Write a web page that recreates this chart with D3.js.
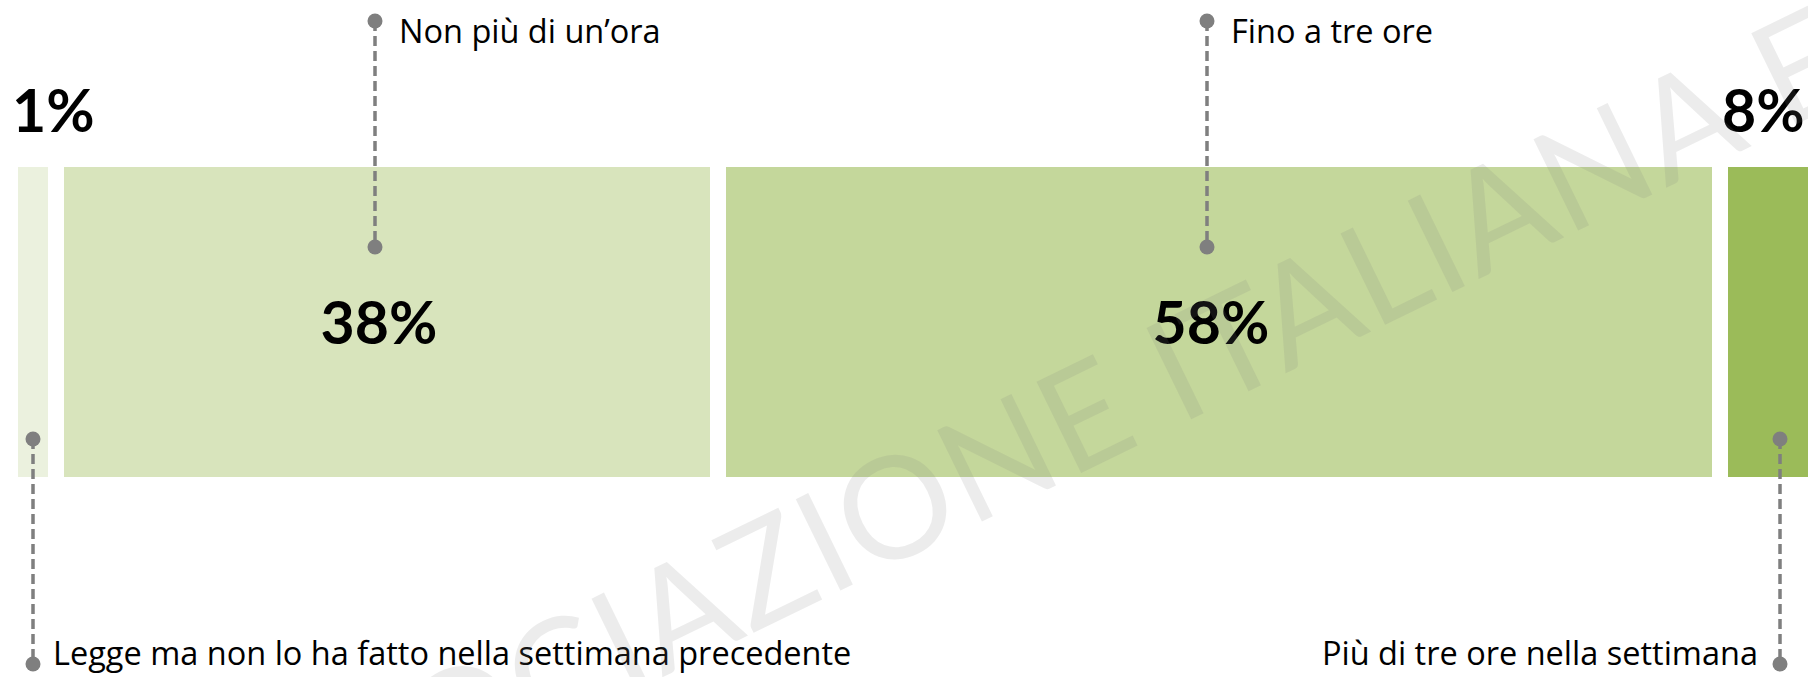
<!DOCTYPE html>
<html>
<head>
<meta charset="utf-8">
<script src="https://cdn.jsdelivr.net/npm/d3@7"></script>
<style>
  body { margin: 0; background: #fff; }
  svg { display: block; }
</style>
</head>
<body>
<div class="chart"></div>
<script>
// data
const categories = ["Legge ma non lo ha fatto nella settimana precedente", "Non più di un’ora", "Fino a tre ore", "Più di tre ore nella settimana"];
const values = [1, 38, 58, 8];
const valueLabels = ["1%", "38%", "58%", "8%"];
const colors = ["#EBF1DE", "#D8E4BC", "#C4D79B", "#9BBB59"];
const calloutSide = ["bottom", "top", "top", "bottom"];
const watermark = "ASSOCIAZIONE ITALIANA EDITORI";

const width = 1808, height = 677;
const gap = 16, minW = 30;
const labelFont = '"Open Sans", sans-serif';

var svg = d3.select('.chart')
            .append('svg')
            .attr("width", width)
            .attr("height", height);

// one stacked row, 17 px for each percentage point
var x = d3.scaleLinear()
          .domain([0, 1])
          .range([0, 17]);

var y = d3.scaleBand()
          .domain(["row"])
          .range([167, 477]);

// lay the segments out one after the other
let cursor = 18;
const bars = values.map((v, i) => {
    const w = Math.max(x(v), minW);
    const b = {i: i, x: cursor, w: w, v: v};
    cursor += w + gap;
    return b;
});

svg.selectAll('rect.bar')
   .data(bars)
   .enter()
   .append('rect')
   .attr('class', 'bar')
   .attr('x', d => d.x)
   .attr('y', y("row"))
   .attr('width', d => d.w)
   .attr('height', y.bandwidth())
   .attr('fill', (d, i) => colors[i]);

// value labels: inside big bars, above the thin ones
svg.selectAll('text.value')
   .data(bars)
   .enter()
   .append('text')
   .attr('class', 'value')
   .attr('x', d => d.w > 200 ? d.x + d.w / 2 - 8 : d.x - 6)
   .attr('y', d => d.w > 200 ? y("row") + y.bandwidth() / 2 + 22 : 132)
   .attr('text-anchor', d => d.w > 200 ? 'middle' : 'start')
   .attr('font-family', 'Lato, sans-serif')
   .attr('font-weight', 700)
   .attr('font-size', 59)
   .attr('fill', '#000')
   .text((d, i) => valueLabels[i]);

// callouts
svg.selectAll('g.callout')
   .data(bars)
   .enter()
   .append('g')
   .attr('class', 'callout')
   .each(function(d, i) {
       const g = d3.select(this);
       let cx, y1, y2, tx, ty, anchor;
       if (calloutSide[i] === 'top') {
           cx = d.x + d.w / 2 - 12;
           y1 = 21; y2 = 247;
           tx = cx + 24; ty = 43; anchor = 'start';
       } else {
           cx = d.x + Math.min(d.w / 2, 52);
           y1 = 439; y2 = 664;
           if (i === 0) { tx = cx + 20; anchor = 'start'; }
           else { tx = cx - 22; anchor = 'end'; }
           ty = 665;
       }
       g.append('line')
        .attr('x1', cx).attr('x2', cx)
        .attr('y1', y1).attr('y2', y2)
        .attr('stroke', '#7f7f7f')
        .attr('stroke-width', 3.5)
        .attr('stroke-dasharray', '10,5');
       g.selectAll('circle')
        .data([y1, y2])
        .enter()
        .append('circle')
        .attr('cx', cx)
        .attr('cy', c => c)
        .attr('r', 7.5)
        .attr('fill', '#7f7f7f');
       g.append('text')
        .attr('x', tx)
        .attr('y', ty)
        .attr('text-anchor', anchor)
        .attr('font-family', labelFont)
        .attr('font-size', 32.5)
        .attr('fill', '#000')
        .text(categories[i]);
   });

// watermark on top, placed so the O of "ZIONE" sits where it is in the source
const fs = 142;
const wm = svg.append('text')
   .attr('font-family', 'Lato, sans-serif')
   .attr('font-size', fs)
   .attr('letter-spacing', 2)
   .attr('fill', '#7f7f7f')
   .attr('fill-opacity', 0.15)
   .text(watermark);
const oBox = wm.node().getExtentOfChar(9);
const oCx = oBox.x + oBox.width / 2 - 1;
wm.attr('transform', `translate(895,507) rotate(-26) translate(${-oCx},${0.36 * fs})`);
</script>
</body>
</html>
